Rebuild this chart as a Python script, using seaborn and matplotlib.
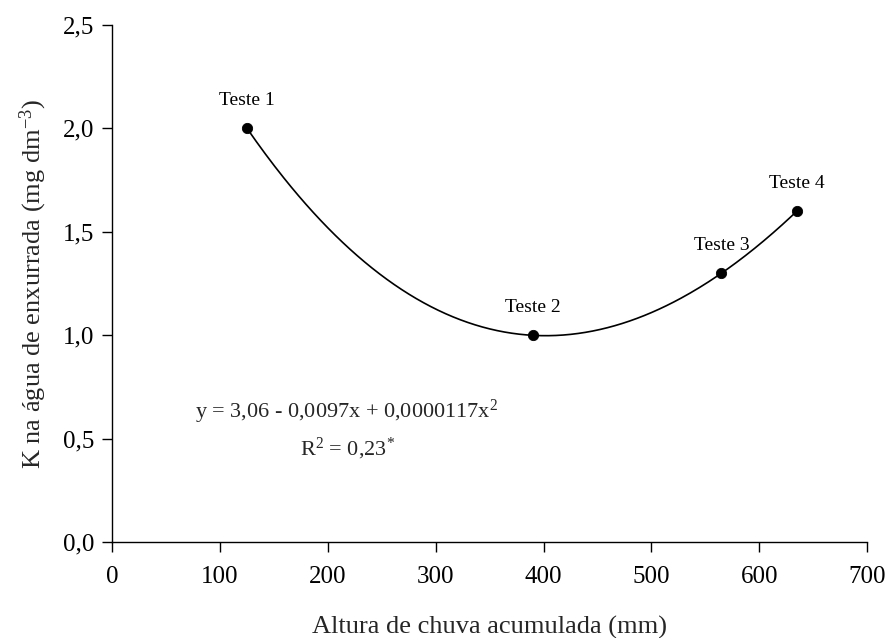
import numpy as np
import pandas as pd
import matplotlib
matplotlib.use("Agg")
import matplotlib.pyplot as plt
import seaborn as sns

# Observations per test
tests = ["Teste 1", "Teste 2", "Teste 3", "Teste 4"]
rain_mm = [125, 390, 565, 635]
k_runoff = [2.0, 1.0, 1.3, 1.6]

# Regression summary printed on the chart
eq_text = r"y = 3,06 - 0,0097x + 0,0000117x$^{2}$"
r2_text = "0,23"

x_ticks = [0, 100, 200, 300, 400, 500, 600, 700]
y_ticks = [0.0, 0.5, 1.0, 1.5, 2.0, 2.5]

sns.set_theme(style="ticks")
plt.rcParams["font.family"] = ["Liberation Serif", "DejaVu Serif"]
plt.rcParams["mathtext.fontset"] = "custom"
plt.rcParams["mathtext.rm"] = "Liberation Serif"
plt.rcParams["mathtext.it"] = "Liberation Serif:italic"

df = pd.DataFrame({"x": rain_mm, "y": k_runoff, "label": tests})

# Smooth trend drawn through the observed points
poly = np.polyfit(rain_mm, k_runoff, 3)
xs = np.linspace(min(rain_mm), max(rain_mm), 300)
fit = pd.DataFrame({"x": xs, "y": np.polyval(poly, xs)})

fig = plt.figure(figsize=(8.91, 6.38), dpi=100)
ax = fig.add_axes([0.126, 0.150, 0.847, 0.811])

sns.lineplot(data=fit, x="x", y="y", ax=ax, color="black", linewidth=1.2)
sns.scatterplot(data=df, x="x", y="y", ax=ax, color="black", s=55,
                edgecolor="black", zorder=5)

for _, r in df.iterrows():
    ax.annotate(r["label"], (r["x"], r["y"]), xytext=(0, 20),
                textcoords="offset points", ha="center", va="center",
                fontsize=14, color="black")

ax.text(77, 0.63, eq_text, fontsize=16, ha="left", va="center")
ax.text(174, 0.45, r"R$^{2}$ = " + r2_text + r"$^{*}$", fontsize=16,
        ha="left", va="center")

ax.set_xlim(0, 700)
ax.set_ylim(0, 2.5)
ax.set_xticks(x_ticks)
ax.set_yticks(y_ticks)
ax.set_xticklabels([str(t) for t in x_ticks])
ax.set_yticklabels([f"{t:.1f}".replace(".", ",") for t in y_ticks])
ax.tick_params(axis="both", direction="out", length=7, width=1,
               labelsize=18, colors="black")
ax.tick_params(axis="x", pad=10)
ax.tick_params(axis="y", pad=6)
ax.set_xlabel("Altura de chuva acumulada (mm)", fontsize=19, labelpad=20)
ax.set_ylabel(r"K na água de enxurrada (mg dm$^{-3}$)", fontsize=19, labelpad=10)

for s in ["top", "right"]:
    ax.spines[s].set_visible(False)
for s in ["left", "bottom"]:
    ax.spines[s].set_color("black")
    ax.spines[s].set_linewidth(1)

fig.savefig("out.png", dpi=100, facecolor="white")
